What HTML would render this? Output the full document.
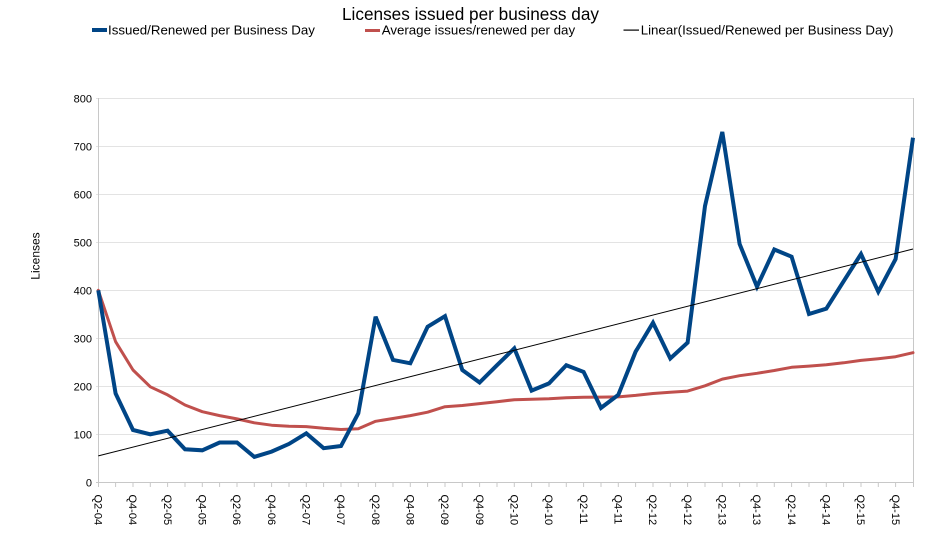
<!DOCTYPE html>
<html>
<head>
<meta charset="utf-8">
<style>
html,body{margin:0;padding:0;background:#fff;}
svg{display:block;}
text{font-family:"Liberation Sans",Arial,sans-serif;fill:#000;}
</style>
</head>
<body>
<svg width="943" height="536" viewBox="0 0 943 536" xmlns="http://www.w3.org/2000/svg">
<rect x="0" y="0" width="943" height="536" fill="#fff"/>
<!-- Title -->
<text x="470.5" y="20" font-size="17.2" text-anchor="middle">Licenses issued per business day</text>
<!-- Legend -->
<rect x="92" y="28" width="15" height="4" fill="#004586"/>
<text x="108" y="34.5" font-size="13.3">Issued/Renewed per Business Day</text>
<rect x="365" y="29" width="15" height="3" fill="#c0504d"/>
<text x="381.7" y="34.5" font-size="13.3">Average issues/renewed per day</text>
<rect x="623.5" y="29.5" width="15.5" height="1.2" fill="#000"/>
<text x="640.7" y="34.5" font-size="13.3">Linear(Issued/Renewed per Business Day)</text>

<!-- Gridlines -->
<g stroke="#e3e3e3" stroke-width="1" fill="none">
<line x1="96" y1="98.5" x2="913" y2="98.5"/>
<line x1="96" y1="146.5" x2="913" y2="146.5"/>
<line x1="96" y1="194.5" x2="913" y2="194.5"/>
<line x1="96" y1="242.5" x2="913" y2="242.5"/>
<line x1="96" y1="290.5" x2="913" y2="290.5"/>
<line x1="96" y1="338.5" x2="913" y2="338.5"/>
<line x1="96" y1="386.5" x2="913" y2="386.5"/>
<line x1="96" y1="434.5" x2="913" y2="434.5"/>
</g>
<!-- Axes -->
<g stroke="#c8c8c8" stroke-width="1" fill="none">
<line x1="98.5" y1="98" x2="98.5" y2="483"/>
<line x1="913.5" y1="98" x2="913.5" y2="487"/>
<line x1="96" y1="482.5" x2="914" y2="482.5"/>
</g>
<!-- X ticks -->
<g stroke="#c8c8c8" stroke-width="1">
<line x1="98.5" y1="482" x2="98.5" y2="487"/>
<line x1="115.6" y1="482" x2="115.6" y2="487"/>
<line x1="133.0" y1="482" x2="133.0" y2="487"/>
<line x1="150.3" y1="482" x2="150.3" y2="487"/>
<line x1="167.6" y1="482" x2="167.6" y2="487"/>
<line x1="185.0" y1="482" x2="185.0" y2="487"/>
<line x1="202.3" y1="482" x2="202.3" y2="487"/>
<line x1="219.6" y1="482" x2="219.6" y2="487"/>
<line x1="237.0" y1="482" x2="237.0" y2="487"/>
<line x1="254.3" y1="482" x2="254.3" y2="487"/>
<line x1="271.6" y1="482" x2="271.6" y2="487"/>
<line x1="289.0" y1="482" x2="289.0" y2="487"/>
<line x1="306.3" y1="482" x2="306.3" y2="487"/>
<line x1="323.6" y1="482" x2="323.6" y2="487"/>
<line x1="341.0" y1="482" x2="341.0" y2="487"/>
<line x1="358.3" y1="482" x2="358.3" y2="487"/>
<line x1="375.6" y1="482" x2="375.6" y2="487"/>
<line x1="393.0" y1="482" x2="393.0" y2="487"/>
<line x1="410.3" y1="482" x2="410.3" y2="487"/>
<line x1="427.6" y1="482" x2="427.6" y2="487"/>
<line x1="445.0" y1="482" x2="445.0" y2="487"/>
<line x1="462.3" y1="482" x2="462.3" y2="487"/>
<line x1="479.6" y1="482" x2="479.6" y2="487"/>
<line x1="497.0" y1="482" x2="497.0" y2="487"/>
<line x1="514.3" y1="482" x2="514.3" y2="487"/>
<line x1="531.6" y1="482" x2="531.6" y2="487"/>
<line x1="549.0" y1="482" x2="549.0" y2="487"/>
<line x1="566.3" y1="482" x2="566.3" y2="487"/>
<line x1="583.6" y1="482" x2="583.6" y2="487"/>
<line x1="601.0" y1="482" x2="601.0" y2="487"/>
<line x1="618.3" y1="482" x2="618.3" y2="487"/>
<line x1="635.6" y1="482" x2="635.6" y2="487"/>
<line x1="653.0" y1="482" x2="653.0" y2="487"/>
<line x1="670.3" y1="482" x2="670.3" y2="487"/>
<line x1="687.6" y1="482" x2="687.6" y2="487"/>
<line x1="705.0" y1="482" x2="705.0" y2="487"/>
<line x1="722.3" y1="482" x2="722.3" y2="487"/>
<line x1="739.6" y1="482" x2="739.6" y2="487"/>
<line x1="757.0" y1="482" x2="757.0" y2="487"/>
<line x1="774.3" y1="482" x2="774.3" y2="487"/>
<line x1="791.6" y1="482" x2="791.6" y2="487"/>
<line x1="809.0" y1="482" x2="809.0" y2="487"/>
<line x1="826.3" y1="482" x2="826.3" y2="487"/>
<line x1="843.6" y1="482" x2="843.6" y2="487"/>
<line x1="861.0" y1="482" x2="861.0" y2="487"/>
<line x1="878.3" y1="482" x2="878.3" y2="487"/>
<line x1="895.6" y1="482" x2="895.6" y2="487"/>
</g>

<!-- Y tick labels -->
<g font-size="11" text-anchor="end">
<text x="92" y="102.5">800</text>
<text x="92" y="150.5">700</text>
<text x="92" y="198.5">600</text>
<text x="92" y="246.5">500</text>
<text x="92" y="294.5">400</text>
<text x="92" y="342.5">300</text>
<text x="92" y="390.5">200</text>
<text x="92" y="438.5">100</text>
<text x="92" y="486.5">0</text>
</g>
<!-- Y axis title -->
<text x="0" y="0" font-size="12" text-anchor="middle" transform="translate(39.5,256) rotate(-90)">Licenses</text>

<!-- X labels -->
<g font-size="11">
<text transform="translate(94.5,494.5) rotate(90)">Q2-04</text>
<text transform="translate(129.2,494.5) rotate(90)">Q4-04</text>
<text transform="translate(163.8,494.5) rotate(90)">Q2-05</text>
<text transform="translate(198.5,494.5) rotate(90)">Q4-05</text>
<text transform="translate(233.2,494.5) rotate(90)">Q2-06</text>
<text transform="translate(267.8,494.5) rotate(90)">Q4-06</text>
<text transform="translate(302.5,494.5) rotate(90)">Q2-07</text>
<text transform="translate(337.2,494.5) rotate(90)">Q4-07</text>
<text transform="translate(371.8,494.5) rotate(90)">Q2-08</text>
<text transform="translate(406.5,494.5) rotate(90)">Q4-08</text>
<text transform="translate(441.2,494.5) rotate(90)">Q2-09</text>
<text transform="translate(475.8,494.5) rotate(90)">Q4-09</text>
<text transform="translate(510.5,494.5) rotate(90)">Q2-10</text>
<text transform="translate(545.2,494.5) rotate(90)">Q4-10</text>
<text transform="translate(579.8,494.5) rotate(90)">Q2-11</text>
<text transform="translate(614.5,494.5) rotate(90)">Q4-11</text>
<text transform="translate(649.2,494.5) rotate(90)">Q2-12</text>
<text transform="translate(683.8,494.5) rotate(90)">Q4-12</text>
<text transform="translate(718.5,494.5) rotate(90)">Q2-13</text>
<text transform="translate(753.2,494.5) rotate(90)">Q4-13</text>
<text transform="translate(787.8,494.5) rotate(90)">Q2-14</text>
<text transform="translate(822.5,494.5) rotate(90)">Q4-14</text>
<text transform="translate(857.2,494.5) rotate(90)">Q2-15</text>
<text transform="translate(891.8,494.5) rotate(90)">Q4-15</text>
</g>

<!-- Red average line -->
<polyline fill="none" stroke="#c0504d" stroke-width="3" stroke-linejoin="round" stroke-linecap="round"
points="98.3,290.3 115.6,341.7 133.0,370.0 150.3,386.8 167.6,394.9 185.0,405.0 202.3,411.7 219.6,415.6 237.0,418.9 254.3,422.8 271.6,425.2 289.0,426.3 306.3,426.6 323.6,428.3 341.0,429.5 358.3,428.7 375.6,421.3 393.0,418.5 410.3,415.6 427.6,412.2 445.0,406.7 462.3,405.5 479.6,403.6 497.0,401.7 514.3,399.7 531.6,399.3 549.0,398.8 566.3,397.8 583.6,397.3 601.0,397.1 618.3,396.9 635.6,395.4 653.0,393.5 670.3,392.3 687.6,391.1 705.0,385.8 722.3,379.1 739.6,375.7 757.0,373.3 774.3,370.5 791.6,367.3 809.0,366.1 826.3,364.7 843.6,362.8 861.0,360.4 878.3,358.7 895.6,356.7 913.0,352.7"/>

<!-- Blue series -->
<polyline fill="none" stroke="#004586" stroke-width="4" stroke-linejoin="miter" stroke-miterlimit="3" stroke-linecap="butt"
points="98.3,290.3 115.6,393.5 133.0,430.0 150.3,434.3 167.6,430.7 185.0,449.3 202.3,450.3 219.6,442.5 237.0,442.5 254.3,456.9 271.6,451.6 289.0,443.9 306.3,433.3 323.6,448.2 341.0,446.0 358.3,413.3 375.6,316.7 393.0,359.9 410.3,363.3 427.6,326.8 445.0,316.2 462.3,370.0 479.6,382.5 497.0,365.2 514.3,348.4 531.6,390.6 549.0,383.4 566.3,365.2 583.6,371.9 601.0,407.9 618.3,394.9 635.6,351.7 653.0,322.7 670.3,358.5 687.6,342.6 705.0,206.0 722.3,131.9 739.6,244.0 757.0,286.7 774.3,249.5 791.6,256.7 809.0,314.0 826.3,308.7 843.6,281.3 861.0,254.0 878.3,291.7 895.6,259.1 913.0,137.7"/>

<!-- Trend line -->
<line x1="98.3" y1="455.9" x2="913" y2="249" stroke="#000" stroke-width="1"/>
</svg>
</body>
</html>
